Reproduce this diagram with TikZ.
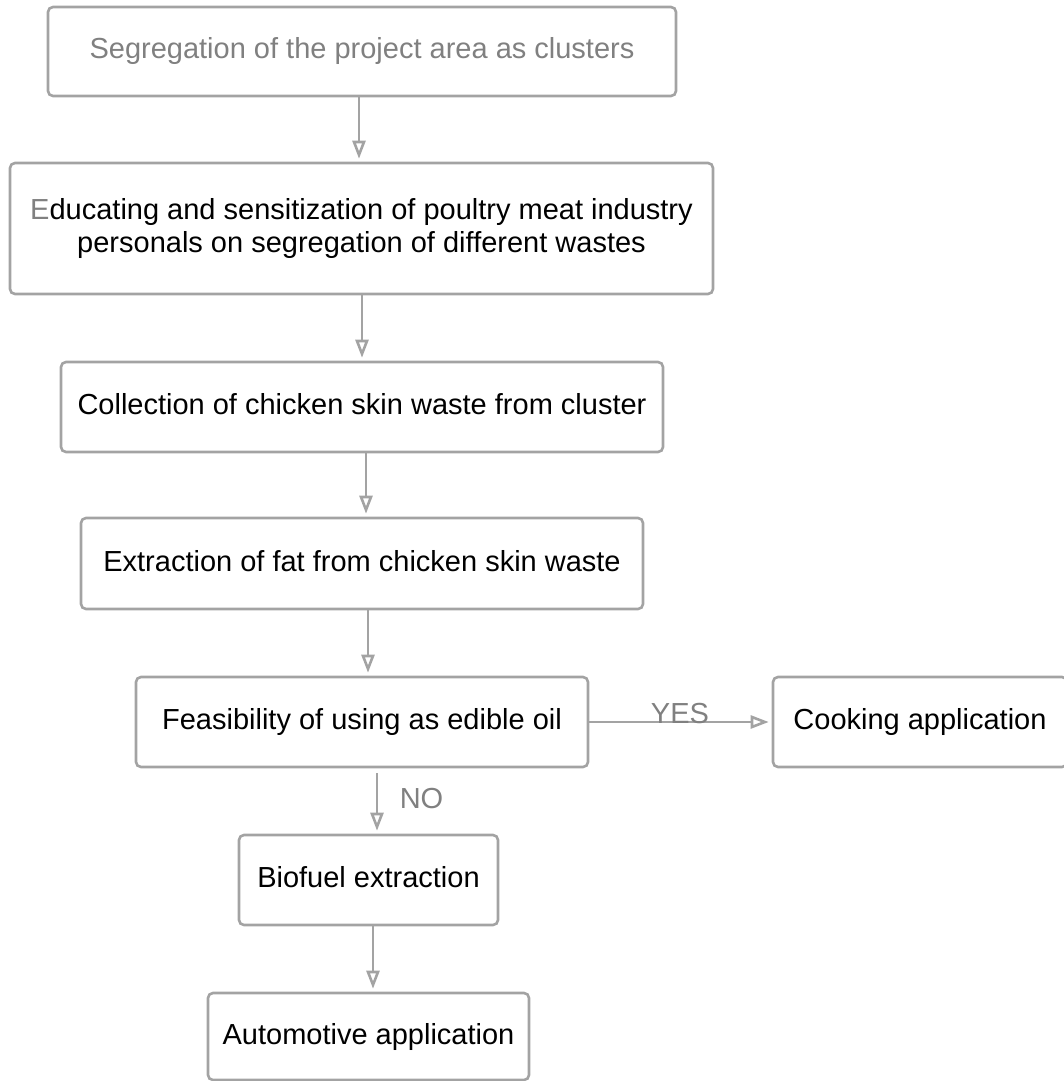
\documentclass[tikz,border=0pt]{standalone}
\usepackage{fontspec}
\setmainfont{Liberation Sans}
\usetikzlibrary{arrows.meta}
\definecolor{linegray}{HTML}{A3A3A3}
\definecolor{txtgray}{HTML}{808080}
\begin{document}
\begin{tikzpicture}[x=1pt,y=-1pt,
  box/.style={draw=linegray, line width=2.6pt, rounded corners=5pt, inner sep=0pt,
              font=\fontsize{29}{33}\selectfont, align=center},
  one/.style={text height=21pt, text depth=6pt},
  arr/.style={draw=linegray, line width=2.6pt, -{Triangle[open, length=18pt, width=13pt]}, shorten >=3pt},
  lbl/.style={text=txtgray, font=\fontsize{29}{33}\selectfont, inner sep=0pt}]
\useasboundingbox (0,0) rectangle (1063,1081);
\node[box,one,text=txtgray, minimum width=628pt, minimum height=89pt] (b1) at (362,51.5)
  {Segregation of the project area as clusters};
\node[box, minimum width=703pt, minimum height=131pt] (b2) at (361.5,228.5)
  {{\color{txtgray}E}ducating and sensitization of poultry meat industry\\personals on segregation of different wastes};
\node[box,one, minimum width=602pt, minimum height=90pt] (b3) at (362,407)
  {Collection of chicken skin waste from cluster};
\node[box,one, minimum width=562pt, minimum height=91pt] (b4) at (362,563.5)
  {Extraction of fat from chicken skin waste};
\node[box,one, minimum width=452pt, minimum height=90pt] (b5) at (362,722)
  {Feasibility of using as edible oil};
\node[box,one, minimum width=294pt, minimum height=90pt] (b6) at (920,722)
  {Cooking application};
\node[box,one, minimum width=259pt, minimum height=90pt] (b7) at (368.5,880)
  {Biofuel extraction};
\node[box,one, minimum width=321pt, minimum height=87pt] (b8) at (368.5,1036.5)
  {Automotive application};

\draw[arr] (359,0 |- b1.south) -- (359,0 |- b2.north);
\draw[arr] (362,0 |- b2.south) -- (362,0 |- b3.north);
\draw[arr] (366,0 |- b3.south) -- (366,0 |- b4.north);
\draw[arr] (368,0 |- b4.south) -- (368,0 |- b5.north);
\draw[arr, shorten <=5pt] (377,0 |- b5.south) -- (377,0 |- b7.north);
\draw[arr] (373,0 |- b7.south) -- (373,0 |- b8.north);
\draw[arr] (b5.east) -- (b5.east -| b6.west);

\node[lbl, anchor=base] (yes) at (680,723) {YES};
\node[lbl, anchor=base] (no) at (421.5,808) {NO};
\end{tikzpicture}
\end{document}
